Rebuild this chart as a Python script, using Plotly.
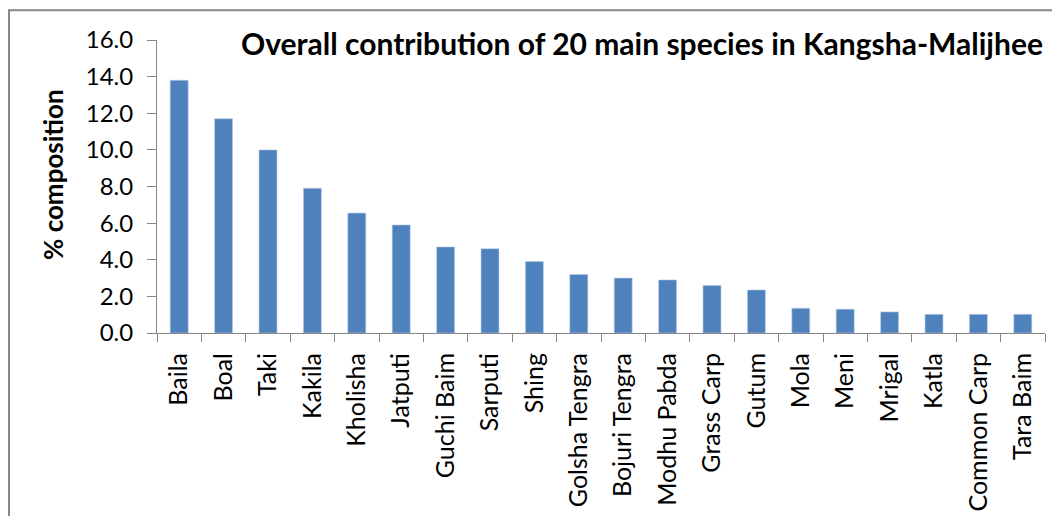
import plotly.graph_objects as go

species = ["Baila", "Boal", "Taki", "Kakila", "Kholisha", "Jatputi", "Guchi Baim",
           "Sarputi", "Shing", "Golsha Tengra", "Bojuri Tengra", "Modhu Pabda",
           "Grass Carp", "Gutum", "Mola", "Meni", "Mrigal", "Katla", "Common Carp",
           "Tara Baim"]
composition = [13.8, 11.7, 10.0, 7.9, 6.55, 5.9, 4.7, 4.6, 3.9, 3.2,
               3.0, 2.9, 2.6, 2.35, 1.35, 1.3, 1.15, 1.02, 1.02, 1.02]
y_ticks = [0, 2, 4, 6, 8, 10, 12, 14, 16]
y_tick_labels = ["0.0", "2.0", "4.0", "6.0", "8.0", "10.0", "12.0", "14.0", "16.0"]
title_text = "Overall contribution of 20 main species in Kangsha-Malijhee"
y_title = "% composition"

W, H = 1060, 516
L, R, T, B = 149, 23, 32, 191
pw, ph = W - L - R, H - T - B

def px(x):
    return (x - L) / pw

def py(y):
    return (H - B - y) / ph

fig = go.Figure(go.Bar(
    x=species, y=composition,
    marker=dict(color="#4F81BD", line=dict(color="#B9CDE5", width=0.6)),
))

axis_col = "#868686"
fig.update_layout(
    width=W, height=H,
    margin=dict(l=L, r=R, t=T, b=B, pad=0),
    paper_bgcolor="white", plot_bgcolor="white",
    bargap=0.595,
    showlegend=False,
    font=dict(family="Lato", color="#000000"),
    xaxis=dict(
        type="category", tickangle=-90, tickson="boundaries",
        ticks="outside", ticklen=8, tickcolor=axis_col, tickwidth=1,
        ticklabelstandoff=9,
        showline=True, linecolor=axis_col, linewidth=1,
        showgrid=False, tickfont=dict(family="Lato", size=25, color="#000"),
        range=[-0.5, 19.5],
    ),
    yaxis=dict(
        range=[0, 16], tickvals=y_ticks, ticktext=y_tick_labels,
        ticks="outside", ticklen=9, tickcolor=axis_col, tickwidth=1,
        ticklabelstandoff=9,
        showline=True, linecolor=axis_col, linewidth=1,
        showgrid=False, zeroline=False,
        tickfont=dict(family="Lato", size=24, color="#000"),
    ),
    annotations=[
        dict(
            text="<b>" + title_text + "</b>", xref="paper", yref="paper",
            x=px(1037), y=py(35), xanchor="right", yanchor="middle",
            showarrow=False, font=dict(family="Lato", size=30, color="#000"),
        ),
        dict(
            text="<b>" + y_title + "</b>", xref="paper", yref="paper",
            x=px(45), y=py(167), xanchor="center", yanchor="middle", textangle=-90,
            showarrow=False, font=dict(family="Lato", size=26, color="#000"),
        ),
    ],
    shapes=[
        dict(type="line", xref="paper", yref="paper", x0=px(0), x1=px(1060), y0=py(2.3), y1=py(2.3),
             line=dict(color="#878787", width=2)),
        dict(type="line", xref="paper", yref="paper", x0=px(1), x1=px(1), y0=py(2.3), y1=py(516),
             line=dict(color="#878787", width=2)),
    ],
)

fig.write_html("out.html")
